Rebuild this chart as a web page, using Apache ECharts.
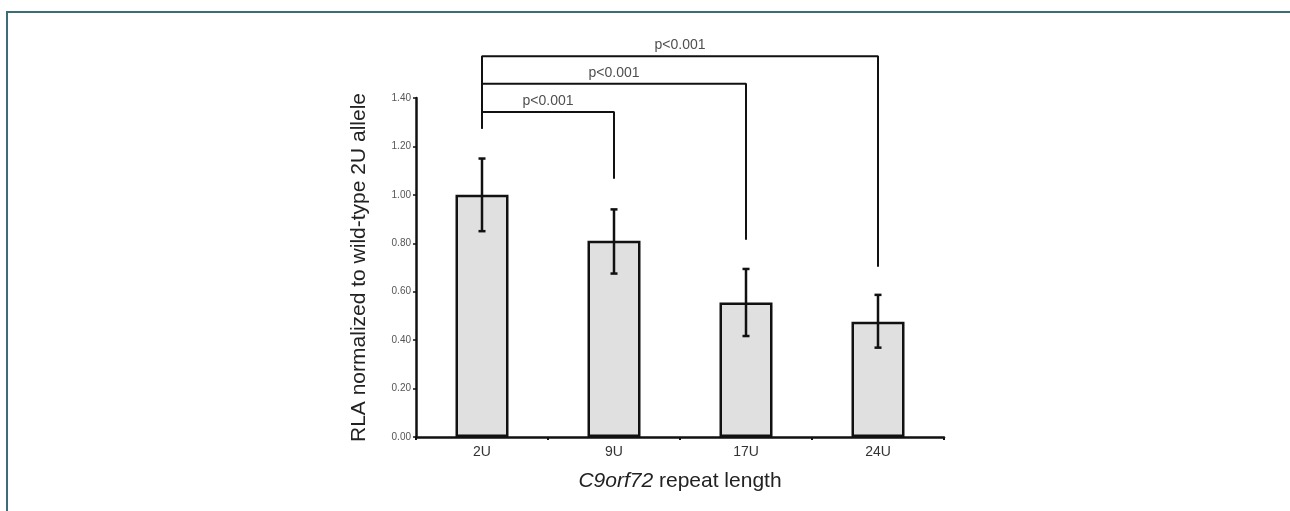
<!DOCTYPE html>
<html>
<head>
<meta charset="utf-8">
<script src="https://cdn.jsdelivr.net/npm/echarts@6/dist/echarts.min.js"></script>
<style>
html, body { margin: 0; padding: 0; background: #fff; }
#chart { width: 1290px; height: 511px; }
</style>
</head>
<body>
<div id="chart"></div>
<script>
// data
var categories = ['2U', '9U', '17U', '24U'];
var means = [1.00, 0.81, 0.555, 0.476];
var errLow = [0.85, 0.675, 0.417, 0.369];
var errHigh = [1.15, 0.94, 0.694, 0.587];

// significance brackets: [from, to, bracket height, drop at from, drop at to, label]
var brackets = [
    [0, 1, 1.342, 1.274, 1.067, 'p<0.001'],
    [0, 2, 1.459, 1.274, 0.815, 'p<0.001'],
    [0, 3, 1.572, 1.274, 0.703, 'p<0.001']
];

var font = 'Liberation Sans, Arial, sans-serif';
var chart = echarts.init(document.getElementById('chart'));

var bracketSeries = [];
brackets.forEach(function (b) {
    bracketSeries.push({
        type: 'line',
        xAxisIndex: 1,
        clip: false,
        silent: true,
        z: 4,
        symbol: 'none',
        lineStyle: { color: '#111', width: 2 },
        data: [[b[0], b[3]], [b[0], b[2]], [b[1], b[2]], [b[1], b[4]]]
    });
    bracketSeries.push({
        type: 'scatter',
        xAxisIndex: 1,
        clip: false,
        silent: true,
        z: 4,
        symbolSize: 0,
        label: {
            show: true,
            position: 'top',
            distance: 4,
            formatter: b[5],
            color: '#222',
            fontSize: 14,
            fontFamily: font
        },
        data: [[(b[0] + b[1]) / 2, b[2]]]
    });
});

var option = {
    animation: false,
    backgroundColor: '#fff',
    graphic: [{
        type: 'polyline',
        shape: { points: [[7, 511], [7, 12], [1290, 12]] },
        style: { stroke: '#3c6c78', lineWidth: 2, fill: null }
    }],
    grid: { left: 416, right: 346, top: 98, bottom: 74 },
    xAxis: [{
        type: 'category',
        data: categories,
        name: '{i|C9orf72} repeat length',
        nameLocation: 'middle',
        nameGap: 34,
        nameTextStyle: {
            color: '#222',
            fontSize: 21,
            fontFamily: font,
            rich: {
                i: { fontStyle: 'italic', fontSize: 21, color: '#222', fontFamily: font }
            }
        },
        axisLine: { lineStyle: { color: '#111', width: 2.5 } },
        axisTick: { show: true, length: 3, lineStyle: { color: '#111', width: 2 } },
        axisLabel: { color: '#333', fontSize: 14, margin: 8, fontFamily: font }
    }, {
        type: 'value',
        min: -0.5,
        max: 3.5,
        show: false
    }],
    yAxis: {
        type: 'value',
        min: 0,
        max: 1.4,
        interval: 0.2,
        name: 'RLA normalized to wild-type 2U allele',
        nameLocation: 'middle',
        nameGap: 46,
        nameTextStyle: { color: '#222', fontSize: 21, fontFamily: font },
        axisLine: { show: true, onZero: false, lineStyle: { color: '#111', width: 2.5 } },
        axisTick: { show: true, length: 3, lineStyle: { color: '#111', width: 1.5 } },
        splitLine: { show: false },
        axisLabel: {
            color: '#555',
            fontSize: 10,
            margin: 5,
            fontFamily: font,
            formatter: function (v) { return v.toFixed(2); }
        }
    },
    series: [{
        type: 'bar',
        data: means,
        barWidth: 53,
        z: 2,
        itemStyle: { color: '#e0e0e0', borderColor: '#111', borderWidth: 2.5 }
    }, {
        type: 'custom',
        clip: false,
        z: 3,
        data: categories.map(function (c, i) { return [i, errLow[i], errHigh[i]]; }),
        renderItem: function (params, api) {
            var lo = api.coord([api.value(0), api.value(1)]);
            var hi = api.coord([api.value(0), api.value(2)]);
            var cap = 3.5;
            var st = { stroke: '#111', lineWidth: 2.5 };
            return {
                type: 'group',
                children: [
                    { type: 'line', shape: { x1: hi[0], y1: hi[1], x2: lo[0], y2: lo[1] }, style: st },
                    { type: 'line', shape: { x1: hi[0] - cap, y1: hi[1], x2: hi[0] + cap, y2: hi[1] }, style: st },
                    { type: 'line', shape: { x1: lo[0] - cap, y1: lo[1], x2: lo[0] + cap, y2: lo[1] }, style: st }
                ]
            };
        }
    }].concat(bracketSeries)
};

chart.setOption(option);
</script>
</body>
</html>
